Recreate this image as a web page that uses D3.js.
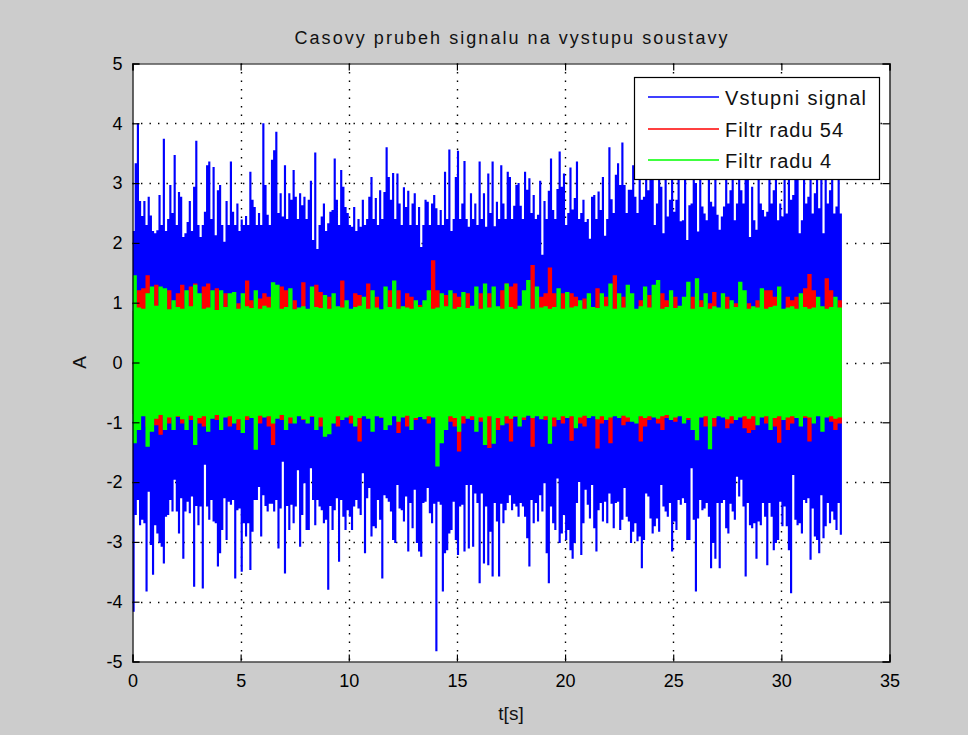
<!DOCTYPE html>
<html>
<head>
<meta charset="utf-8">
<script src="https://cdn.jsdelivr.net/npm/d3@7/dist/d3.min.js"></script>
<style>
  html, body { margin: 0; padding: 0; background: #cccccc; }
  svg { display: block; font-family: "Liberation Sans", Arial, Helvetica, sans-serif; }
</style>
</head>
<body>
<svg id="chart" width="968" height="735"></svg>
<script>
// ---- chart text ----
const TITLE = "Casovy prubeh signalu na vystupu soustavy";
const X_LABEL = "t[s]";
const Y_LABEL = "A";
const X_TICKS = [0, 5, 10, 15, 20, 25, 30, 35];
const Y_TICKS = [-5, -4, -3, -2, -1, 0, 1, 2, 3, 4, 5];
const SERIES_NAMES = ["Vstupni signal", "Filtr radu 54", "Filtr radu 4"];

// ---- sampling of the envelopes (seconds per bin) ----
const BLUE_DT = 0.1;     // input signal: max / min per 0.1 s
const FILTER_DT = 0.2;   // filter outputs: max / min per 0.2 s

// input signal (Vstupni signal) – upper and lower envelope per bin
const blueHi = [
  2.2, 3.33, 4.0, 2.7, 2.45, 2.7, 2.3, 2.77, 2.46, 2.2,
  2.16, 2.21, 2.8, 2.3, 3.74, 2.2, 2.4, 2.97, 2.5, 3.47,
  2.3, 2.85, 2.77, 2.1, 2.16, 2.35, 2.7, 2.2, 2.94, 3.71,
  2.3, 2.1, 2.3, 2.52, 3.3, 3.36, 2.4, 3.27, 2.13, 2.88,
  2.97, 2.3, 2.02, 2.7, 2.3, 3.36, 2.52, 2.3, 2.66, 2.2,
  2.39, 2.3, 2.45, 2.3, 3.19, 2.72, 2.6, 2.3, 2.5, 2.3,
  4.0, 2.97, 2.47, 2.3, 3.39, 3.55, 3.86, 2.5, 2.83, 2.44,
  3.3, 2.4, 2.83, 2.72, 3.22, 2.77, 2.4, 2.83, 2.63, 2.77,
  2.4, 2.72, 3.04, 2.05, 3.51, 1.9, 2.3, 2.44, 2.66, 2.2,
  2.33, 2.52, 2.55, 3.41, 2.72, 2.3, 3.22, 2.94, 2.6, 2.5,
  2.3, 2.27, 2.6, 2.2, 2.4, 2.27, 2.72, 2.3, 2.4, 2.77,
  3.1, 2.4, 2.75, 2.3, 2.88, 2.4, 2.85, 3.6, 3.1, 2.72,
  3.17, 2.4, 3.16, 2.66, 2.3, 2.93, 2.6, 2.87, 2.3, 2.66,
  2.83, 2.3, 2.6, 1.93, 2.3, 2.72, 2.69, 2.3, 2.66, 2.8,
  2.58, 2.3, 2.55, 2.3, 3.19, 2.4, 3.56, 2.2, 2.4, 3.1,
  3.54, 2.4, 2.66, 3.37, 2.4, 2.27, 2.83, 2.4, 2.66, 2.3,
  3.36, 2.4, 2.83, 2.27, 3.16, 2.5, 3.36, 2.28, 2.69, 2.4,
  3.3, 2.66, 2.4, 3.19, 3.1, 2.4, 2.62, 2.97, 3.0, 2.62,
  2.4, 3.19, 2.89, 3.08, 2.5, 2.8, 2.4, 2.47, 3.04, 1.8,
  2.7, 2.4, 2.87, 3.41, 2.55, 2.4, 2.9, 3.53, 2.94, 3.16,
  2.3, 2.5, 3.26, 2.56, 2.75, 3.36, 2.4, 2.5, 2.72, 2.35,
  2.4, 2.07, 2.77, 2.8, 2.4, 2.86, 2.55, 3.1, 2.12, 2.4,
  3.6, 2.73, 2.5, 3.14, 3.33, 2.97, 3.68, 2.97, 2.5, 2.89,
  2.89, 3.3, 2.77, 2.5, 3.05, 2.72, 2.77, 3.3, 2.88, 3.6,
  3.2, 2.3, 2.66, 3.45, 2.94, 2.16, 3.9, 2.44, 2.72, 3.25,
  2.52, 2.72, 3.5, 2.36, 2.38, 3.15, 2.05, 2.63, 2.66, 3.7,
  3.0, 2.19, 3.35, 2.61, 2.49, 2.38, 3.1, 2.69, 2.61, 3.55,
  2.47, 2.22, 2.44, 2.61, 3.4, 2.66, 2.88, 3.2, 2.38, 2.66,
  3.8, 2.88, 2.66, 3.3, 3.15, 2.1, 2.94, 2.38, 2.22, 3.6,
  2.66, 2.55, 2.44, 2.52, 3.25, 2.66, 2.88, 3.45, 2.38, 2.66,
  2.44, 3.1, 2.49, 3.65, 2.72, 2.8, 3.3, 3.2, 2.16, 2.38,
  3.5, 2.66, 2.77, 3.35, 2.49, 2.83, 3.75, 2.58, 3.15, 2.16,
  3.4, 2.66, 2.88, 3.3, 2.49, 2.61, 3.55, 2.49
];
const blueLo = [
  -4.17, -2.55, -2.3, -2.72, -2.63, -2.69, -3.83, -2.16, -3.05, -3.55,
  -2.72, -2.86, -3.02, -3.08, -3.36, -2.58, -2.55, -2.3, -2.49, -1.96,
  -2.49, -2.86, -2.27, -3.28, -2.49, -2.33, -2.52, -2.24, -3.75, -2.4,
  -2.72, -2.41, -3.78, -1.71, -2.41, -2.63, -2.3, -2.66, -2.69, -3.41,
  -3.19, -2.8, -2.27, -2.97, -2.33, -2.38, -2.3, -3.61, -2.47, -2.44,
  -3.5, -2.69, -2.91, -2.69, -3.47, -2.83, -2.3, -2.3, -2.08, -2.91,
  -2.22, -2.4, -2.49, -2.36, -2.36, -2.49, -2.3, -3.11, -2.44, -1.66,
  -3.53, -2.4, -2.8, -2.38, -2.69, -2.41, -1.8, -3.08, -2.55, -2.02,
  -2.8, -2.8, -1.77, -2.3, -2.72, -2.3, -2.41, -2.47, -2.69, -2.63,
  -3.8, -2.4, -2.8, -2.47, -2.27, -3.33, -2.3, -2.58, -2.8, -2.47,
  -2.58, -2.8, -2.41, -2.3, -2.44, -2.55, -1.85, -3.19, -2.27, -2.1,
  -2.91, -2.74, -2.77, -2.3, -2.63, -3.61, -2.22, -2.27, -2.33, -2.49,
  -2.97, -3.02, -2.05, -2.44, -2.47, -2.66, -2.24, -3.16, -2.35, -2.77,
  -2.13, -3.02, -3.16, -3.25, -2.35, -2.33, -2.1, -2.52, -2.69, -2.36,
  -4.83, -2.33, -2.38, -3.83, -3.19, -3.14, -2.86, -2.8, -2.33, -2.97,
  -3.22, -2.41, -2.38, -3.16, -2.05, -3.11, -2.05, -3.08, -2.19, -2.35,
  -3.69, -2.19, -3.36, -2.41, -3.39, -2.83, -3.58, -2.35, -2.66, -3.58,
  -2.36, -2.69, -2.47, -2.35, -2.22, -2.47, -2.36, -2.41, -2.58, -2.35,
  -2.41, -2.58, -2.94, -3.41, -2.3, -2.69, -2.35, -2.66, -2.22, -2.49,
  -2.02, -3.19, -3.69, -2.41, -2.69, -2.8, -1.94, -3.02, -2.86, -2.55,
  -2.97, -2.8, -3.14, -3.28, -3.02, -2.35, -2.0, -3.22, -2.69, -2.13,
  -2.38, -2.61, -2.05, -2.77, -3.16, -2.47, -2.35, -2.66, -2.33, -2.69,
  -2.19, -2.36, -2.77, -2.35, -2.33, -2.8, -2.63, -2.1, -2.58, -2.66,
  -3.02, -2.83, -2.69, -2.99, -2.91, -3.44, -2.97, -2.19, -2.24, -2.61,
  -2.86, -2.74, -2.61, -2.83, -2.05, -2.41, -2.49, -2.58, -2.35, -3.16,
  -2.66, -2.8, -2.3, -2.38, -2.27, -2.35, -2.97, -2.97, -1.77, -2.63,
  -3.83, -2.61, -2.3, -2.47, -2.44, -2.35, -2.58, -3.44, -3.02, -3.28,
  -2.35, -3.44, -2.35, -2.3, -2.77, -2.86, -2.36, -2.49, -2.63, -1.91,
  -2.24, -1.96, -2.41, -3.58, -2.35, -2.72, -2.77, -2.69, -3.28, -2.66,
  -2.72, -2.35, -2.58, -3.39, -2.35, -2.58, -3.14, -3.02, -2.97, -2.33,
  -2.74, -2.41, -2.74, -3.14, -3.86, -1.88, -2.63, -2.72, -2.69, -2.86,
  -2.3, -2.35, -2.27, -3.3, -2.44, -2.91, -2.97, -3.19, -2.22, -2.94,
  -2.74, -2.35, -2.69, -2.49, -2.63, -2.8, -2.35, -2.88
];

// order-54 filter output (Filtr radu 54) – envelope per bin
const redHi = [
  0.86, 1.21, 1.24, 1.46, 0.86, 1.3, 0.88, 0.86, 1.21, 0.86,
  1.16, 1.3, 0.86, 1.27, 1.32, 0.86, 1.27, 1.32, 0.86, 1.24,
  0.86, 1.16, 0.86, 0.86, 0.99, 0.86, 1.37, 1.04, 0.86, 1.07,
  1.16, 1.1, 0.86, 0.86, 1.27, 1.21, 0.86, 1.04, 0.86, 1.34,
  0.86, 0.86, 1.3, 1.18, 0.86, 1.1, 0.86, 0.86, 1.37, 0.86,
  0.86, 1.16, 1.13, 0.86, 1.32, 0.86, 1.1, 0.86, 0.86, 1.21,
  0.86, 1.21, 0.86, 1.16, 1.1, 0.86, 0.96, 0.86, 0.86, 1.71,
  1.21, 0.86, 1.13, 0.86, 1.16, 1.1, 0.86, 1.16, 0.86, 0.86,
  1.16, 0.86, 1.16, 0.86, 0.86, 1.21, 1.32, 1.27, 1.32, 0.86,
  0.86, 0.86, 1.63, 0.86, 1.1, 1.16, 1.59, 1.16, 0.86, 1.16,
  0.86, 1.16, 1.1, 0.86, 1.07, 0.86, 0.86, 1.24, 0.86, 1.1,
  0.86, 1.46, 0.86, 1.1, 0.86, 0.86, 0.86, 1.04, 0.86, 1.13,
  0.86, 0.86, 1.16, 1.04, 0.86, 1.1, 0.86, 0.86, 0.86, 1.1,
  0.86, 1.04, 0.86, 0.99, 1.18, 0.86, 0.86, 1.1, 0.86, 0.99,
  0.86, 0.86, 0.99, 0.86, 1.04, 0.86, 1.21, 1.21, 1.1, 0.86,
  0.86, 1.1, 1.04, 1.1, 0.86, 1.24, 1.48, 1.21, 0.86, 0.86,
  1.41, 1.21, 0.86, 1.04
];
const redLo = [
  -0.86, -0.86, -0.86, -1.07, -0.86, -1.05, -1.21, -0.86, -1.02, -0.86,
  -0.91, -1.02, -0.86, -0.96, -0.86, -1.02, -1.07, -0.86, -0.86, -0.96,
  -0.91, -0.86, -1.07, -0.86, -1.13, -0.86, -0.96, -0.86, -0.86, -1.02,
  -0.86, -1.07, -1.38, -0.93, -0.96, -0.86, -1.02, -0.86, -0.86, -0.96,
  -0.86, -0.91, -0.86, -1.07, -0.86, -0.86, -0.86, -1.07, -0.86, -0.85,
  -1.02, -0.86, -1.32, -0.86, -0.93, -0.86, -0.85, -0.93, -0.86, -0.86,
  -0.86, -1.18, -0.86, -1.07, -0.86, -0.96, -0.86, -0.86, -1.02, -0.86,
  -0.86, -1.07, -0.86, -0.99, -1.07, -1.49, -1.02, -0.86, -0.96, -0.86,
  -0.99, -1.3, -1.43, -0.86, -1.13, -0.86, -1.02, -1.32, -0.91, -0.86,
  -0.96, -0.86, -1.41, -0.86, -0.86, -0.96, -0.86, -1.07, -0.86, -1.02,
  -0.86, -1.31, -0.86, -1.02, -1.07, -0.86, -0.86, -1.44, -1.02, -0.86,
  -1.35, -0.86, -0.86, -1.05, -0.99, -0.86, -0.86, -1.32, -1.07, -0.96,
  -0.86, -1.02, -1.13, -0.93, -0.86, -0.99, -0.86, -0.86, -0.96, -0.86,
  -1.05, -0.86, -1.07, -0.86, -1.07, -0.86, -0.86, -1.1, -1.02, -0.86,
  -0.86, -1.1, -1.18, -1.13, -0.86, -0.86, -1.02, -0.86, -1.07, -1.34,
  -0.86, -1.13, -1.02, -0.86, -0.86, -0.93, -1.32, -0.86, -0.86, -0.86,
  -0.91, -0.99, -1.13, -1.02
];

// order-4 filter output (Filtr radu 4) – envelope per bin
const greenHi = [
  1.46, 0.92, 0.9, 1.16, 1.27, 0.95, 1.27, 1.24, 0.89, 1.04,
  0.93, 0.9, 1.21, 0.94, 1.3, 1.16, 0.9, 0.92, 1.21, 0.88,
  1.21, 0.93, 1.16, 1.18, 0.9, 1.16, 0.94, 0.91, 1.21, 0.9,
  0.95, 0.92, 1.34, 1.3, 0.9, 0.93, 1.24, 0.89, 0.92, 0.94,
  0.9, 1.27, 0.93, 0.91, 1.13, 0.9, 1.16, 0.94, 0.92, 1.04,
  0.9, 0.93, 0.95, 1.1, 0.9, 1.21, 0.92, 0.89, 1.27, 0.93,
  1.37, 0.9, 0.94, 0.92, 0.9, 1.04, 0.93, 1.04, 1.21, 0.9,
  0.92, 1.16, 0.94, 1.21, 0.9, 0.93, 1.18, 0.91, 0.95, 1.27,
  0.9, 1.32, 0.92, 1.27, 0.94, 0.9, 1.32, 0.93, 0.9, 0.95,
  1.21, 1.38, 0.9, 1.27, 0.92, 0.94, 0.9, 0.93, 1.24, 0.9,
  1.18, 0.92, 0.94, 1.04, 0.9, 1.16, 0.93, 0.91, 1.16, 0.94,
  1.32, 0.9, 1.16, 0.92, 1.3, 1.16, 0.9, 0.94, 1.27, 0.92,
  1.3, 1.38, 0.9, 0.93, 1.21, 0.91, 0.95, 1.1, 1.35, 0.9,
  1.41, 0.93, 1.16, 0.9, 0.94, 0.92, 1.16, 0.9, 1.04, 0.93,
  1.35, 1.21, 0.9, 0.94, 0.92, 1.24, 0.9, 0.93, 0.95, 1.27,
  0.9, 0.92, 0.94, 0.9, 1.16, 0.93, 0.9, 0.92, 1.1, 0.94,
  0.9, 0.93, 1.1, 0.92
];
const greenLo = [
  -1.35, -1.13, -0.9, -1.41, -1.16, -0.94, -0.88, -1.13, -0.92, -1.13,
  -0.9, -0.95, -1.13, -0.89, -1.38, -0.93, -0.9, -1.16, -0.94, -0.88,
  -1.13, -0.92, -0.9, -1.02, -0.95, -1.18, -0.9, -0.93, -1.46, -0.89,
  -0.92, -0.9, -1.02, -0.94, -0.88, -1.13, -0.92, -1.02, -0.9, -0.95,
  -1.02, -0.9, -1.13, -0.92, -1.24, -1.2, -1.02, -0.9, -0.96, -0.92,
  -0.89, -1.07, -0.93, -0.9, -0.94, -1.16, -0.9, -0.92, -1.13, -1.05,
  -0.9, -0.99, -0.92, -0.89, -1.13, -0.93, -0.91, -0.95, -0.9, -0.92,
  -1.74, -1.35, -1.13, -0.9, -0.93, -1.16, -0.9, -0.94, -0.9, -1.16,
  -0.92, -1.38, -0.9, -1.36, -0.93, -1.05, -0.9, -0.94, -0.9, -1.07,
  -0.92, -0.89, -0.93, -0.9, -0.95, -0.9, -1.36, -0.92, -0.96, -0.9,
  -0.93, -0.9, -1.1, -0.92, -0.89, -0.93, -0.9, -0.95, -0.9, -0.96,
  -0.92, -0.9, -0.93, -0.89, -0.92, -0.99, -1.02, -0.9, -0.93, -0.9,
  -0.92, -0.94, -0.9, -0.88, -0.96, -0.92, -0.9, -1.02, -0.93, -1.13,
  -1.3, -0.92, -0.9, -1.45, -0.93, -0.9, -0.92, -0.95, -0.9, -0.96,
  -0.92, -0.9, -0.94, -0.9, -1.05, -0.92, -0.9, -1.13, -0.93, -0.9,
  -0.96, -0.92, -0.9, -0.93, -1.07, -0.9, -0.92, -1.02, -0.9, -1.16,
  -0.92, -0.9, -0.94, -0.92
];

const SERIES_COLORS = ["#0000ff", "#ff0000", "#00ff00"];

// ---- layout ----
const svg = d3.select("#chart");
const W = 968, H = 735;
const box = { left: 132.5, right: 889.5, top: 63.5, bottom: 661.5 };

svg.append("rect").attr("width", W).attr("height", H).attr("fill", "#cccccc");

const x = d3.scaleLinear().domain([0, 35]).range([box.left, box.right]);
const y = d3.scaleLinear().domain([-5, 5]).range([box.bottom, box.top]);

// white axes background
svg.append("rect")
  .attr("x", box.left).attr("y", box.top)
  .attr("width", box.right - box.left).attr("height", box.bottom - box.top)
  .attr("fill", "#ffffff");

// dotted grid (below the data)
const grid = svg.append("g").attr("class", "grid")
  .attr("stroke", "#000").attr("stroke-width", 1.4)
  .attr("stroke-dasharray", "1.4,7.1");
grid.selectAll("line.gx")
  .data(X_TICKS.filter(t => t > 0 && t < 35))
  .join("line").attr("class", "gx")
  .attr("x1", d => Math.round(x(d)) + 0.5).attr("x2", d => Math.round(x(d)) + 0.5)
  .attr("y1", box.top).attr("y2", box.bottom);
grid.selectAll("line.gy")
  .data(Y_TICKS.filter(v => v > -5 && v < 5))
  .join("line").attr("class", "gy")
  .attr("y1", d => Math.round(y(d)) + 0.5).attr("y2", d => Math.round(y(d)) + 0.5)
  .attr("x1", box.left).attr("x2", box.right);

// clip for the signals
svg.append("clipPath").attr("id", "plotClip")
  .append("rect")
  .attr("x", box.left).attr("y", box.top)
  .attr("width", box.right - box.left).attr("height", box.bottom - box.top);

function envelope(hi, lo, dt) {
  const pts = hi.map((h, i) => ({ t: i * dt, hi: h, lo: lo[i] }));
  const last = pts[pts.length - 1];
  pts.push({ t: hi.length * dt, hi: last.hi, lo: last.lo }); // closes the final bin
  return pts;
}

const area = d3.area()
  .curve(d3.curveStepAfter)
  .x(d => x(d.t))
  .y0(d => y(d.lo))
  .y1(d => y(d.hi));

const signals = [
  { pts: envelope(blueHi, blueLo, BLUE_DT), color: SERIES_COLORS[0] },
  { pts: envelope(redHi, redLo, FILTER_DT), color: SERIES_COLORS[1] },
  { pts: envelope(greenHi, greenLo, FILTER_DT), color: SERIES_COLORS[2] }
];

const plot = svg.append("g").attr("clip-path", "url(#plotClip)");
plot.selectAll("path.sig")
  .data(signals)
  .join("path").attr("class", "sig")
  .attr("d", d => area(d.pts))
  .attr("fill", d => d.color)
  .attr("stroke", "none");

// ---- axes (ticks point inward, box on all four sides) ----
const TICK = 7;
const fmt = d => String(d);   // plain hyphen-minus for negative labels
const axisFont = g => g.selectAll("text")
  .attr("font-size", 18).attr("fill", "#000")
  .attr("font-family", "'Liberation Sans', Arial, sans-serif");

const gx = svg.append("g").attr("transform", `translate(0,${box.bottom})`)
  .call(d3.axisBottom(x).tickValues(X_TICKS).tickFormat(fmt).tickSize(-TICK).tickPadding(13))
  .call(axisFont);
const gxTop = svg.append("g").attr("transform", `translate(0,${box.top})`)
  .call(d3.axisTop(x).tickValues(X_TICKS).tickSize(-TICK).tickFormat(""));
const gy = svg.append("g").attr("transform", `translate(${box.left},0)`)
  .call(d3.axisLeft(y).tickValues(Y_TICKS).tickFormat(fmt).tickSize(-TICK).tickPadding(10))
  .call(axisFont);
const gyRight = svg.append("g").attr("transform", `translate(${box.right},0)`)
  .call(d3.axisRight(y).tickValues(Y_TICKS).tickSize(-TICK).tickFormat(""));

[gx, gxTop, gy, gyRight].forEach(g => {
  g.selectAll(".domain").attr("stroke", "#000").attr("stroke-width", 1.2);
  g.selectAll(".tick line").attr("stroke", "#000").attr("stroke-width", 1.2);
});

// ---- labels ----
svg.append("text")
  .attr("x", (box.left + box.right) / 2).attr("y", 44)
  .attr("text-anchor", "middle").attr("font-size", 18).attr("fill", "#111")
  .attr("textLength", 433).attr("lengthAdjust", "spacing")
  .text(TITLE);

svg.append("text")
  .attr("x", (box.left + box.right) / 2).attr("y", 720)
  .attr("text-anchor", "middle").attr("font-size", 19).attr("fill", "#111")
  .text(X_LABEL);

svg.append("text")
  .attr("transform", `translate(86,${(box.top + box.bottom) / 2}) rotate(-90)`)
  .attr("text-anchor", "middle").attr("font-size", 19).attr("fill", "#111")
  .text(Y_LABEL);

// ---- legend ----
const leg = { x: 634.5, y: 77.5, w: 245, h: 102 };
const legendG = svg.append("g");
legendG.append("rect")
  .attr("x", leg.x).attr("y", leg.y).attr("width", leg.w).attr("height", leg.h)
  .attr("fill", "#ffffff").attr("stroke", "#000").attr("stroke-width", 1.2);

const legendRows = [97, 129, 160];
const legendWidths = [141, 118, 106];
const items = legendG.selectAll("g.item")
  .data(SERIES_NAMES.map((name, i) => ({ name, color: SERIES_COLORS[i], cy: legendRows[i], w: legendWidths[i] })))
  .join("g").attr("class", "item");
items.append("line")
  .attr("x1", 648).attr("x2", 719)
  .attr("y1", d => d.cy).attr("y2", d => d.cy)
  .attr("stroke", d => d.color).attr("stroke-width", 1.5);
items.append("text")
  .attr("x", 725).attr("y", d => d.cy + 7.5)
  .attr("font-size", 20).attr("fill", "#111")
  .attr("textLength", d => d.w).attr("lengthAdjust", "spacing")
  .text(d => d.name);
</script>
</body>
</html>
